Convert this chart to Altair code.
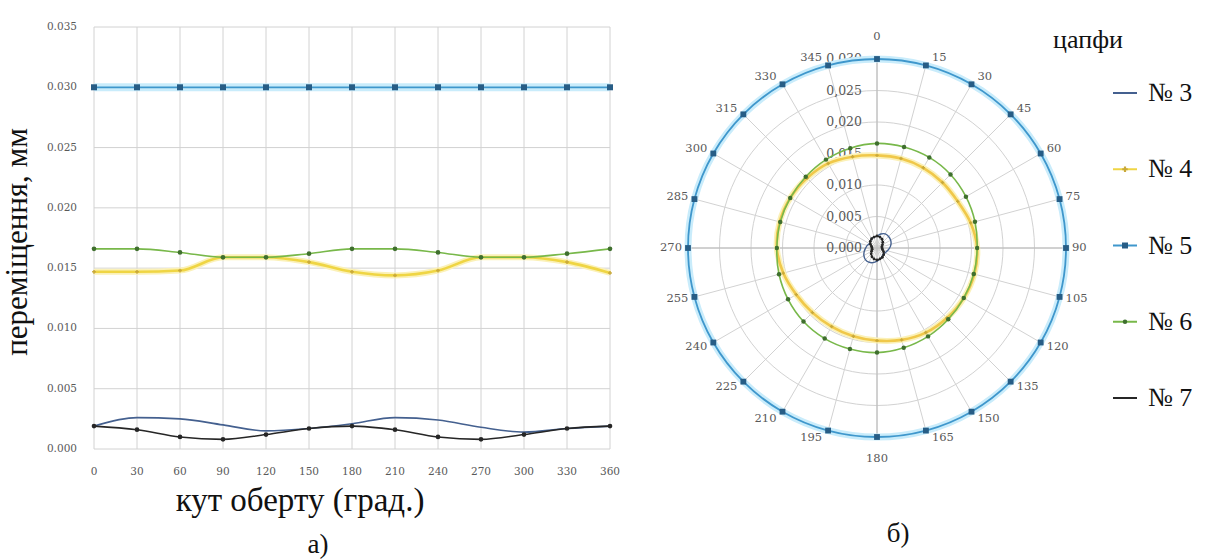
import altair as alt
import pandas as pd

# ---------------- data ----------------
journals = ["№ 3", "№ 4", "№ 5", "№ 6", "№ 7"]

# a) displacement vs. rotation angle (every 30 degrees)
angles = [0, 30, 60, 90, 120, 150, 180, 210, 240, 270, 300, 330, 360]
disp_3 = [0.0019, 0.0026, 0.0025, 0.0020, 0.0015, 0.0017, 0.0021, 0.0026, 0.0024, 0.0018, 0.0014, 0.0017, 0.0019]
disp_4 = [0.0147, 0.0147, 0.0148, 0.0159, 0.0159, 0.0155, 0.0147, 0.0144, 0.0148, 0.0159, 0.0159, 0.0155, 0.0146]
disp_5 = [0.0300, 0.0300, 0.0300, 0.0300, 0.0300, 0.0300, 0.0300, 0.0300, 0.0300, 0.0300, 0.0300, 0.0300, 0.0300]
disp_6 = [0.0166, 0.0166, 0.0163, 0.0159, 0.0159, 0.0162, 0.0166, 0.0166, 0.0163, 0.0159, 0.0159, 0.0162, 0.0166]
disp_7 = [0.0019, 0.0016, 0.0010, 0.0008, 0.0012, 0.0017, 0.0019, 0.0016, 0.0010, 0.0008, 0.0012, 0.0017, 0.0019]

# б) polar diagram (every 15 degrees)
polar_angles = [0, 15, 30, 45, 60, 75, 90, 105, 120, 135, 150, 165,
                180, 195, 210, 225, 240, 255, 270, 285, 300, 315, 330, 345]
polar_3 = [0.0019, 0.0023, 0.0026, 0.0026, 0.0025, 0.0023, 0.0020, 0.0017, 0.0015, 0.0014, 0.0016, 0.0018,
           0.0021, 0.0024, 0.0026, 0.0026, 0.0024, 0.0021, 0.0018, 0.0016, 0.0014, 0.0015, 0.0017, 0.0018]
polar_4 = [0.0147, 0.0147, 0.0147, 0.0147, 0.0148, 0.0154, 0.0159, 0.0160, 0.0159, 0.0157, 0.0155, 0.0151,
           0.0147, 0.0145, 0.0144, 0.0145, 0.0148, 0.0154, 0.0159, 0.0160, 0.0159, 0.0157, 0.0155, 0.0150]
polar_5 = [0.0300, 0.0300, 0.0300, 0.0300, 0.0300, 0.0300, 0.0300, 0.0300, 0.0300, 0.0300, 0.0300, 0.0300,
           0.0300, 0.0300, 0.0300, 0.0300, 0.0300, 0.0300, 0.0300, 0.0300, 0.0300, 0.0300, 0.0300, 0.0300]
polar_6 = [0.0166, 0.0166, 0.0166, 0.0165, 0.0163, 0.0161, 0.0159, 0.0159, 0.0159, 0.0160, 0.0162, 0.0164,
           0.0166, 0.0166, 0.0166, 0.0165, 0.0163, 0.0161, 0.0159, 0.0159, 0.0159, 0.0160, 0.0162, 0.0164]
polar_7 = [0.0019, 0.0018, 0.0016, 0.0013, 0.0010, 0.0008, 0.0008, 0.0009, 0.0012, 0.0015, 0.0017, 0.0018,
           0.0019, 0.0018, 0.0016, 0.0013, 0.0010, 0.0008, 0.0008, 0.0009, 0.0012, 0.0015, 0.0017, 0.0018]

# axis ticks
y_ticks = [0.000, 0.005, 0.010, 0.015, 0.020, 0.025, 0.030, 0.035]
y_tick_labels = ["0.000", "0.005", "0.010", "0.015", "0.020", "0.025", "0.030", "0.035"]
x_tick_labels = ["0", "30", "60", "90", "120", "150", "180", "210", "240", "270", "300", "330", "360"]
radial_ticks = [0.000, 0.005, 0.010, 0.015, 0.020, 0.025, 0.030]
radial_tick_labels = ["0,000", "0,005", "0,010", "0,015", "0,020", "0,025", "0,030"]

# ---------------- styles ----------------
SERIF = "Liberation Serif"
TICKFONT = "DejaVu Serif"
TICKCOLOR = "#595959"
GRID = "#d2d2d2"

C3 = "#44608f"
C4 = "#efd544"
C4_HALO = "#fbf1b8"
C4_MARK = "#c9a93a"
C5 = "#3f97cc"
C5_HALO = "#c9ecfb"
C5_MARK = "#275d86"
C6 = "#78b84a"
C6_MARK = "#3f6f2e"
C7 = "#262626"

# ---------------- left panel: Cartesian chart ----------------
XL = alt.Scale(domain=[0, 360], range=[94, 610], nice=False, zero=False)
YL = alt.Scale(domain=[0, 0.035], range=[449, 27], nice=False, zero=False)

ytick_df = pd.DataFrame({"v": y_ticks, "label": y_tick_labels})
xtick_df = pd.DataFrame({"a": angles, "label": x_tick_labels})

h_grid = alt.Chart(ytick_df).transform_calculate(x0="0", x1="360").mark_rule(
    color=GRID, strokeWidth=1
).encode(
    x=alt.X("x0:Q", scale=XL, axis=None), x2="x1:Q",
    y=alt.Y("v:Q", scale=YL, axis=None),
)
v_grid = alt.Chart(xtick_df).transform_calculate(y0="0", y1="0.035").mark_rule(
    color=GRID, strokeWidth=1
).encode(
    x=alt.X("a:Q", scale=XL, axis=None),
    y=alt.Y("y0:Q", scale=YL, axis=None), y2="y1:Q",
)
y_labels = alt.Chart(ytick_df).transform_calculate(x0="0").mark_text(
    align="right", baseline="middle", dx=-17, font=TICKFONT, fontSize=10.5, color=TICKCOLOR
).encode(
    x=alt.X("x0:Q", scale=XL, axis=None),
    y=alt.Y("v:Q", scale=YL, axis=None),
    text="label:N",
)
x_labels = alt.Chart(xtick_df).transform_calculate(y0="0").mark_text(
    align="center", baseline="middle", dy=23, font=TICKFONT, fontSize=10.5, color=TICKCOLOR
).encode(
    x=alt.X("a:Q", scale=XL, axis=None),
    y=alt.Y("y0:Q", scale=YL, axis=None),
    text="label:N",
)


def cartesian(values, color, width, halo=None, marker=None, msize=20, mcolor=None):
    df = pd.DataFrame({"angle": angles, "value": values})
    base = alt.Chart(df).encode(
        x=alt.X("angle:Q", scale=XL, axis=None),
        y=alt.Y("value:Q", scale=YL, axis=None),
    )
    out = []
    if halo:
        out.append(base.mark_line(color=halo[0], strokeWidth=halo[1], interpolate="monotone"))
    out.append(base.mark_line(color=color, strokeWidth=width, interpolate="monotone"))
    if marker:
        out.append(base.mark_point(shape=marker, filled=True, size=msize,
                                   color=mcolor or color, opacity=1))
    return out


left_layers = [h_grid, v_grid, y_labels, x_labels]
left_layers += cartesian(disp_3, C3, 1.6)
left_layers += cartesian(disp_4, C4, 2.6, halo=(C4_HALO, 6), marker="cross", msize=14, mcolor=C4_MARK)
left_layers += cartesian(disp_5, C5, 1.8, halo=(C5_HALO, 8), marker="square", msize=36, mcolor=C5_MARK)
left_layers += cartesian(disp_6, C6, 1.6, marker="circle", msize=22, mcolor=C6_MARK)
left_layers += cartesian(disp_7, C7, 1.6, marker="circle", msize=22, mcolor=C7)
left = alt.layer(*left_layers)

# ---------------- right panel: polar diagram ----------------
R_MAX = 0.030
XP = alt.Scale(domain=[-R_MAX, R_MAX], range=[688, 1066], nice=False, zero=False)
YP = alt.Scale(domain=[-R_MAX, R_MAX], range=[437, 59], nice=False, zero=False)

# concentric grid circles: one closed curve per radial tick
ring_df = pd.DataFrame(
    [{"ring": r, "angle": a} for r in radial_ticks[1:] for a in polar_angles]
)
rings = alt.Chart(ring_df).transform_calculate(
    px="datum.ring*sin(datum.angle*PI/180)",
    py="datum.ring*cos(datum.angle*PI/180)",
).mark_line(color=GRID, strokeWidth=1, interpolate="cardinal-closed").encode(
    x=alt.X("px:Q", scale=XP, axis=None),
    y=alt.Y("py:Q", scale=YP, axis=None),
    detail="ring:N",
    order=alt.Order("angle:Q"),
)

spoke_df = pd.DataFrame({"angle": polar_angles, "label": [str(a) for a in polar_angles]})
spoke_base = alt.Chart(spoke_df).transform_calculate(
    cx="0", cy="0",
    sx=f"{R_MAX}*sin(datum.angle*PI/180)",
    sy=f"{R_MAX}*cos(datum.angle*PI/180)",
)
spokes = spoke_base.mark_rule(color=GRID, strokeWidth=1).encode(
    x=alt.X("cx:Q", scale=XP, axis=None), x2="sx:Q",
    y=alt.Y("cy:Q", scale=YP, axis=None), y2="sy:Q",
)
main_spokes = spoke_base.transform_filter("datum.angle % 90 == 0").mark_rule(
    color="#b8b8b8", strokeWidth=1
).encode(
    x=alt.X("cx:Q", scale=XP, axis=None), x2="sx:Q",
    y=alt.Y("cy:Q", scale=YP, axis=None), y2="sy:Q",
)

label_base = alt.Chart(spoke_df).transform_calculate(
    lx=f"{R_MAX}*sin(datum.angle*PI/180)",
    ly=f"{R_MAX * 1.043}*cos(datum.angle*PI/180)",
)
label_enc = dict(
    x=alt.X("lx:Q", scale=XP, axis=None),
    y=alt.Y("ly:Q", scale=YP, axis=None),
    text="label:N",
)
angle_text = dict(font=TICKFONT, fontSize=11.5, color=TICKCOLOR, baseline="middle")
lab_right = label_base.transform_filter("datum.angle > 0 && datum.angle < 180").mark_text(
    align="left", dx=6, **angle_text).encode(**label_enc)
lab_left = label_base.transform_filter("datum.angle > 180").mark_text(
    align="right", dx=-6, **angle_text).encode(**label_enc)
lab_top = label_base.transform_filter("datum.angle == 0").mark_text(
    align="center", dy=-14, **angle_text).encode(**label_enc)
lab_bottom = label_base.transform_filter("datum.angle == 180").mark_text(
    align="center", dy=14, **angle_text).encode(**label_enc)

rtick_df = pd.DataFrame({"r": radial_ticks, "label": radial_tick_labels})
radial_labels = alt.Chart(rtick_df).transform_calculate(cx="0").mark_text(
    align="right", baseline="middle", dx=-15, font=TICKFONT, fontSize=12.5, color=TICKCOLOR
).encode(
    x=alt.X("cx:Q", scale=XP, axis=None),
    y=alt.Y("r:Q", scale=YP, axis=None),
    text="label:N",
)


def polar(values, color, width, halo=None, marker=None, msize=20, mcolor=None):
    df = pd.DataFrame({"angle": polar_angles, "r": values})
    base = alt.Chart(df).transform_calculate(
        px="datum.r*sin(datum.angle*PI/180)",
        py="datum.r*cos(datum.angle*PI/180)",
    ).encode(
        x=alt.X("px:Q", scale=XP, axis=None),
        y=alt.Y("py:Q", scale=YP, axis=None),
        order=alt.Order("angle:Q"),
    )
    out = []
    if halo:
        out.append(base.mark_line(color=halo[0], strokeWidth=halo[1], interpolate="cardinal-closed"))
    out.append(base.mark_line(color=color, strokeWidth=width, interpolate="cardinal-closed"))
    if marker:
        out.append(base.mark_point(shape=marker, filled=True, size=msize,
                                   color=mcolor or color, opacity=1))
    return out


polar_layers = [rings, spokes, main_spokes, radial_labels,
                lab_right, lab_left, lab_top, lab_bottom]
polar_layers += polar(polar_3, C3, 1.4)
polar_layers += polar(polar_4, "#f0c84a", 2.6, halo=(C4_HALO, 6), marker="cross", msize=12, mcolor=C4_MARK)
polar_layers += polar(polar_5, C5, 1.8, halo=(C5_HALO, 7), marker="square", msize=34, mcolor=C5_MARK)
polar_layers += polar(polar_6, C6, 1.6, marker="circle", msize=20, mcolor=C6_MARK)
polar_layers += polar(polar_7, C7, 1.2, marker="circle", msize=8, mcolor=C7)
right = alt.layer(*polar_layers)

# ---------------- legend ----------------
LY = alt.Scale(type="point", domain=journals, range=[93, 398], padding=0)
legend_df = pd.DataFrame({"journal": journals})
leg_colors = alt.Scale(domain=journals, range=[C3, C4, C5, C6, C7])
leg_lines = alt.Chart(legend_df).mark_rule(strokeWidth=2).encode(
    x=alt.value(1113), x2=alt.value(1137),
    y=alt.Y("journal:N", scale=LY, axis=None),
    color=alt.Color("journal:N", scale=leg_colors, legend=None),
)
leg_m4 = alt.Chart(legend_df).transform_filter("datum.journal == '№ 4'").mark_point(
    shape="cross", filled=True, size=30, color=C4_MARK, opacity=1
).encode(x=alt.value(1125), y=alt.Y("journal:N", scale=LY, axis=None))
leg_m5 = alt.Chart(legend_df).transform_filter("datum.journal == '№ 5'").mark_point(
    shape="square", filled=True, size=36, color=C5_MARK, opacity=1
).encode(x=alt.value(1125), y=alt.Y("journal:N", scale=LY, axis=None))
leg_m6 = alt.Chart(legend_df).transform_filter("datum.journal == '№ 6'").mark_point(
    shape="circle", filled=True, size=20, color=C6_MARK, opacity=1
).encode(x=alt.value(1125), y=alt.Y("journal:N", scale=LY, axis=None))
leg_text = alt.Chart(legend_df).mark_text(
    align="left", baseline="middle", font=SERIF, fontSize=26, color="#111111"
).encode(
    x=alt.value(1148),
    y=alt.Y("journal:N", scale=LY, axis=None),
    text="journal:N",
)
legend = alt.layer(leg_lines, leg_m4, leg_m5, leg_m6, leg_text)


# ---------------- titles and captions ----------------
def label(text, x, y, size, angle=0):
    return alt.Chart(pd.DataFrame({"t": [text]})).mark_text(
        font=SERIF, fontSize=size, color="#111111", align="center",
        baseline="middle", angle=angle,
    ).encode(x=alt.value(x), y=alt.value(y), text="t:N")


titles = alt.layer(
    label("переміщення, мм", 18, 242, 31, angle=270),
    label("кут оберту (град.)", 300, 501, 33),
    label("а)", 318, 545, 27),
    label("б)", 898, 534, 27),
    label("цапфи", 1088, 40, 26),
)

chart = alt.layer(left, right, legend, titles).resolve_scale(
    x="independent", y="independent", color="independent"
).properties(
    width=1211, height=560,
    padding={"left": 0, "top": 0, "right": 0, "bottom": 0},
    autosize=alt.AutoSizeParams(type="none"),
    background="white",
).configure_view(stroke=None)

chart.save("out.html", embed_options={"renderer": "svg", "actions": False})
